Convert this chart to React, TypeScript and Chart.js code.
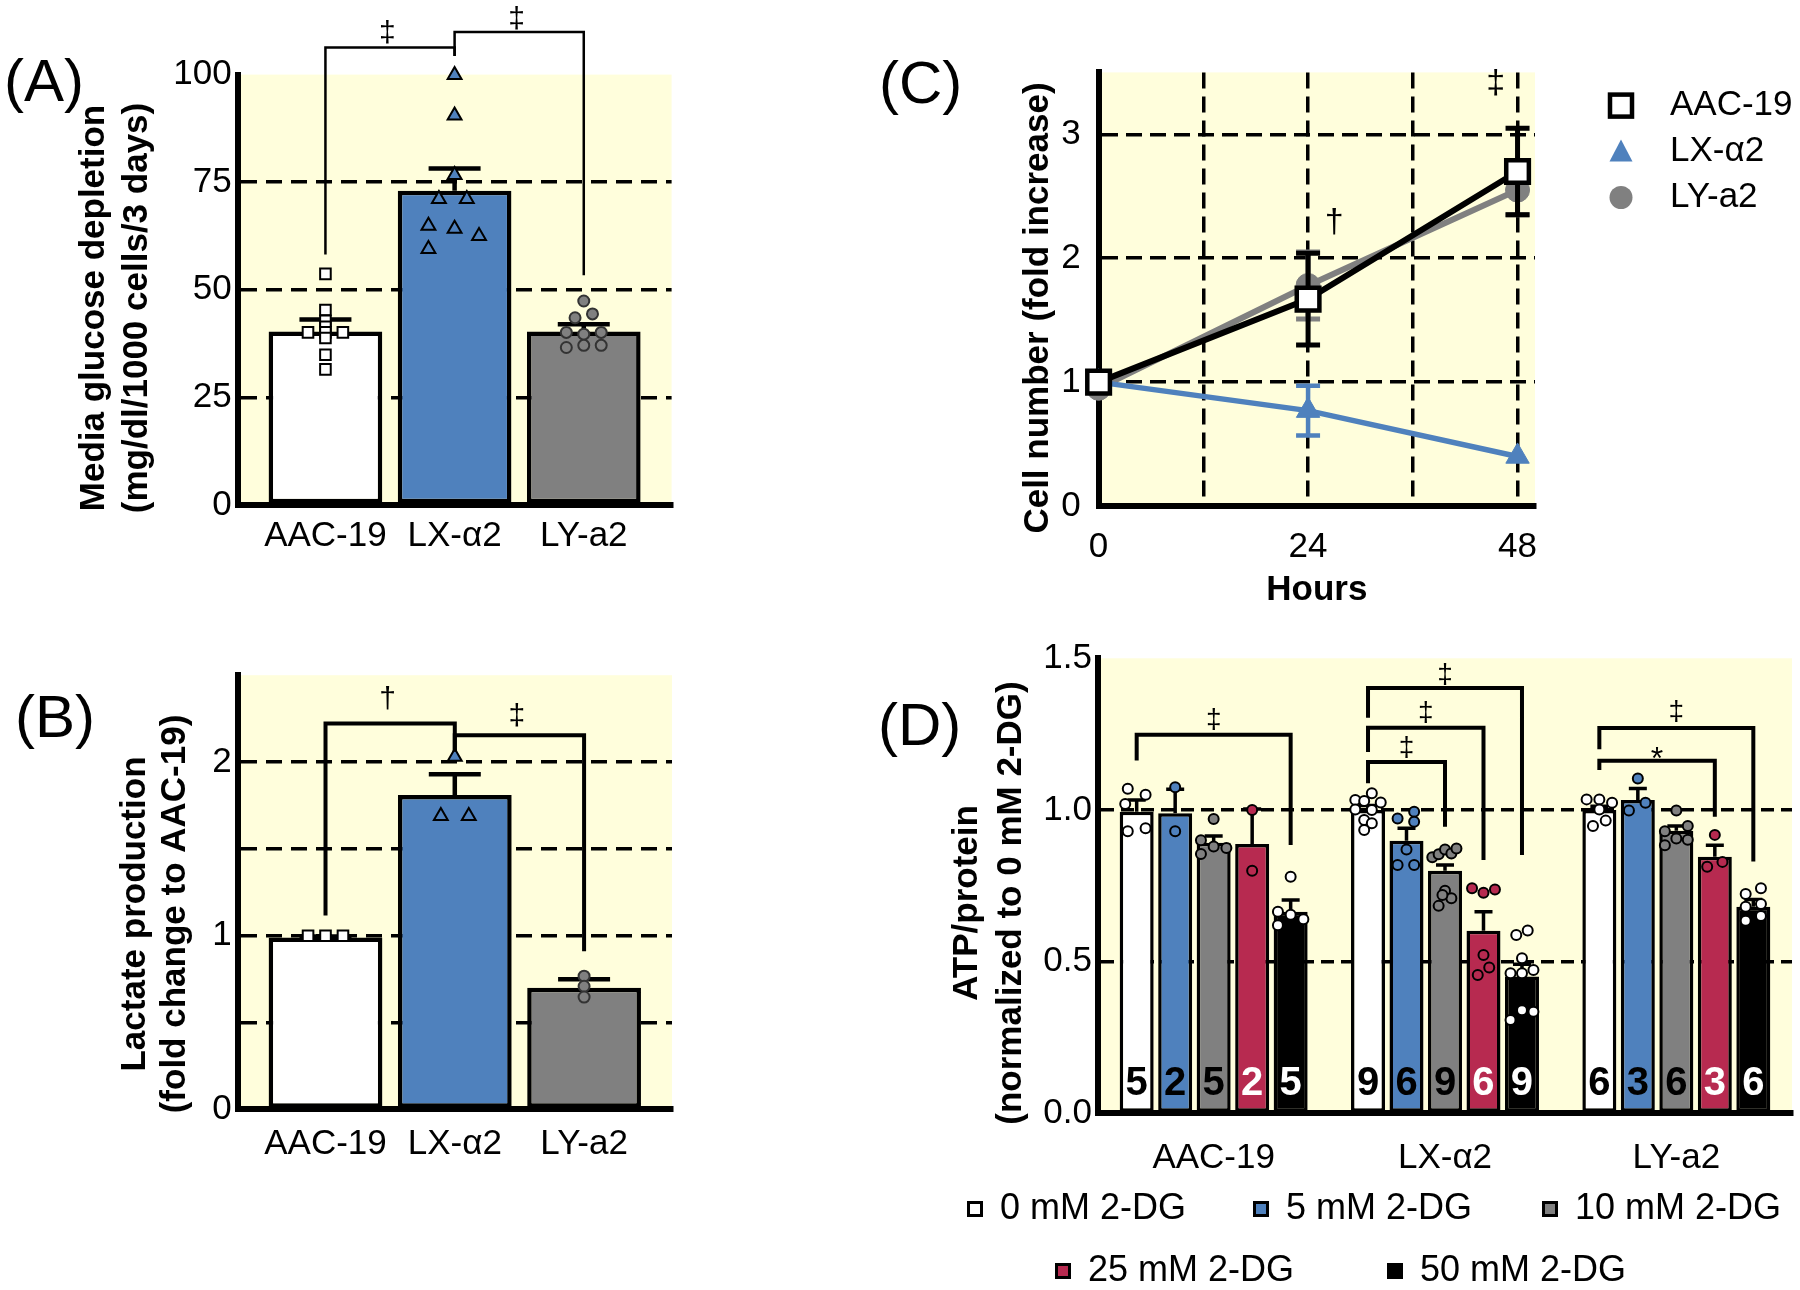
import React, { useEffect, useRef } from 'react';
import { Chart, registerables } from 'chart.js';
Chart.register(...registerables);

const W = 1800;
const H = 1290;
const FONT = '"Liberation Sans", Arial, Helvetica, sans-serif';
const YELLOW = '#FFFEDC';
const BLUE = '#4F81BD';
const GRAY = '#808080';
const RED = '#B72A50';
const WHITE = '#FFFFFF';
const BLACK = '#000000';

// ---------- shared ----------
const lines = ['AAC-19', 'LX-α2', 'LY-a2'];

// ---------- Panel A : glucose depletion ----------
const aTicks = [0, 25, 50, 75, 100];
const aGrid = [25, 50, 75];
const aMean = [40.3, 73.0, 40.3];
const aSem = [2.8, 5.2, 1.7];
const aPtsAAC = [53.7, 45.3, 42.8, 41.4, 40.1, 40.1, 40.1, 38.8, 34.9, 31.5];
const aJitAAC = [0, 0, 0, 0, -1, 0, 1, 0, 0, 0];
const aPtsLX = [99.9, 90.5, 76.7, 71.1, 71.1, 64.9, 64.2, 62.5, 59.5];
const aJitLX = [0, 0, 0, -0.9, 0.7, -1.5, 0, 1.4, -1.5];
const aPtsLY = [47.4, 44.4, 43.5, 40.1, 40.1, 39.7, 36.6, 37.1, 37.1];
const aJitLY = [0, 0.5, -0.5, -1, 1, 0, -1, 0, 1];
const aBrackets = [
  { from: 0, to: 1, top: 106.3, leftEnd: 58.2, rightEnd: 104.3, sym: '‡', symY: 109.5 },
  { from: 1, to: 2, top: 109.9, leftEnd: 104.3, rightEnd: 53.4, sym: '‡', symY: 112.8 },
];

// ---------- Panel B : lactate ----------
const bTicks = [0, 0.5, 1, 1.5, 2, 2.5];
const bGrid = [0.5, 1, 1.5, 2];
const bMean = [0.99, 1.81, 0.7];
const bSem = [0.005, 0.12, 0.05];
const bPtsAAC = [1.0, 1.0, 1.0];
const bJitAAC = [-1, 0, 1];
const bPtsLX = [2.03, 1.69, 1.69];
const bJitLX = [0, -0.8, 0.8];
const bPtsLY = [0.767, 0.709, 0.647];
const bJitLY = [0, 0, 0];
const bBrackets = [
  { from: 0, to: 1, top: 2.222, leftEnd: 1.116, rightEnd: 2.06, sym: '†', symY: 2.36 },
  { from: 1, to: 2, top: 2.154, leftEnd: 2.06, rightEnd: 0.91, sym: '‡', symY: 2.26 },
];

// ---------- Panel C : cell number ----------
const hours = [0, 24, 48];
const cXTicks = [0, 12, 24, 36, 48];
const cYTicks = [0, 1, 2, 3];
const cAAC = [1.0, 1.67, 2.7];
const cAACErr = [0.03, 0.37, 0.35];
const cLX = [1.0, 0.77, 0.4];
const cLXErr = [0.02, 0.2, 0.03];
const cLY = [0.95, 1.78, 2.55];
const cLYErr = [0.03, 0.27, 0.2];
const cMarks = [
  { x: 27, y: 2.29, sym: '†' },
  { x: 45.5, y: 3.41, sym: '‡' },
];

// ---------- Panel D : ATP ----------
const dConc = ['0 mM 2-DG', '5 mM 2-DG', '10 mM 2-DG', '25 mM 2-DG', '50 mM 2-DG'];
const dYTicks = [0, 0.5, 1, 1.5];
const dGrid = [0.5, 1];
const dMean0 = [0.994, 1.0, 1.0];
const dMean5 = [0.989, 0.899, 1.033];
const dMean10 = [0.892, 0.8, 0.932];
const dMean25 = [0.888, 0.602, 0.846];
const dMean50 = [0.665, 0.451, 0.681];
const dSem0 = [0.039, 0.015, 0.012];
const dSem5 = [0.079, 0.041, 0.038];
const dSem10 = [0.022, 0.019, 0.015];
const dSem25 = [0.115, 0.063, 0.038];
const dSem50 = [0.038, 0.041, 0.024];
const dN0 = [5, 9, 6];
const dN5 = [2, 6, 3];
const dN10 = [5, 9, 6];
const dN25 = [2, 6, 3];
const dN50 = [5, 9, 6];
const dPts0 = [
  [1.07, 1.05, 1.02, 0.93, 0.94],
  [1.033, 1.03, 1.055, 1.025, 1.002, 1.0, 0.967, 0.956, 0.934],
  [1.035, 1.035, 1.024, 1.002, 0.947, 0.965],
];
const dJit0 = [
  [-0.7, 0.7, -0.9, -0.7, 0.7],
  [-1, -0.3, 0.3, 1, -1, 0.3, -0.3, 0.3, -0.3],
  [-1, 0, 1, 0, -0.5, 0.5],
];
const dPts5 = [
  [1.075, 0.93],
  [0.972, 0.994, 0.961, 0.87, 0.819, 0.819],
  [1.104, 0.998, 1.024],
];
const dJit5 = [
  [0, 0],
  [-0.7, 0.6, 0.6, 0, -0.7, 0.6],
  [0, -0.7, 0.6],
];
const dPts10 = [
  [0.97, 0.9, 0.88, 0.875, 0.855],
  [0.844, 0.854, 0.87, 0.857, 0.873, 0.734, 0.709, 0.684, 0.72],
  [0.998, 0.93, 0.947, 0.906, 0.902, 0.884],
];
const dJit10 = [
  [0, -1, 0, 1, -1],
  [-1, -0.5, 0, 0.5, 0.9, 0, 0.5, -0.5, -0.2],
  [0, -0.9, 0.9, 0, 0.9, -0.9],
];
const dPts25 = [
  [1.0, 0.8],
  [0.742, 0.727, 0.738, 0.522, 0.481, 0.456],
  [0.918, 0.813, 0.829],
];
const dJit25 = [
  [0, 0],
  [-0.9, 0, 0.9, 0, 0.45, -0.45],
  [0, -0.6, 0.6],
];
const dPts50 = [
  [0.78, 0.665, 0.655, 0.64, 0.62],
  [0.588, 0.603, 0.511, 0.462, 0.473, 0.462, 0.308, 0.34, 0.335],
  [0.742, 0.723, 0.681, 0.69, 0.635, 0.651],
];
const dJit50 = [
  [0, -1, 0, 1, -1],
  [-0.45, 0.45, 0, -0.9, 0.9, 0, -0.9, 0, 0.9],
  [0.6, -0.6, -0.6, 0.6, -0.6, 0.6],
];
const dBrackets = [
  { g: 0, from: 0, to: 4, top: 1.248, leftEnd: 1.163, rightEnd: 0.885, sym: '‡', symY: 1.297 },
  { g: 1, from: 0, to: 4, top: 1.402, leftEnd: 1.304, rightEnd: 0.852, sym: '‡', symY: 1.444 },
  { g: 1, from: 0, to: 3, top: 1.271, leftEnd: 1.191, rightEnd: 0.835, sym: '‡', symY: 1.318 },
  { g: 1, from: 0, to: 2, top: 1.158, leftEnd: 1.088, rightEnd: 0.945, sym: '‡', symY: 1.203 },
  { g: 2, from: 0, to: 4, top: 1.27, leftEnd: 1.2, rightEnd: 0.83, sym: '‡', symY: 1.322 },
  { g: 2, from: 0, to: 3, top: 1.162, leftEnd: 1.132, rightEnd: 0.978, sym: '*', symY: 1.19 },
];

const dMeans = [dMean0, dMean5, dMean10, dMean25, dMean50];
const dSems = [dSem0, dSem5, dSem10, dSem25, dSem50];
const dNs = [dN0, dN5, dN10, dN25, dN50];
const dPts = [dPts0, dPts5, dPts10, dPts25, dPts50];
const dJits = [dJit0, dJit5, dJit10, dJit25, dJit50];
const dBarColors = [WHITE, BLUE, GRAY, RED, BLACK];
const dPtColors = [WHITE, BLUE, GRAY, RED, WHITE];
const dNColors = [BLACK, BLACK, BLACK, WHITE, WHITE];

// ---------- layout helpers ----------
const YW = 120;
const XH = 100;
type Box = { l: number; t: number; r: number; b: number };
const padFor = (b: Box) => ({ left: b.l - YW, top: b.t, right: W - b.r, bottom: H - b.b - XH });

const boxA: Box = { l: 237.6, t: 74.6, r: 671.6, b: 505 };
const boxB: Box = { l: 237.6, t: 675.2, r: 672, b: 1109.4 };
const boxC: Box = { l: 1098.6, t: 72.4, r: 1535, b: 506 };
const boxD: Box = { l: 1098, t: 658.3, r: 1792, b: 1113.4 };

const TICK_FONT = { family: FONT, size: 35 };

function txt(ctx: CanvasRenderingContext2D, s: string, x: number, y: number, size: number, o: any = {}) {
  ctx.save();
  ctx.font = `${o.bold ? 'bold ' : ''}${size}px ${FONT}`;
  ctx.fillStyle = o.color || BLACK;
  ctx.textAlign = o.align || 'center';
  ctx.textBaseline = 'middle';
  if (o.rot) {
    ctx.translate(x, y);
    ctx.rotate(-Math.PI / 2);
    ctx.fillText(s, 0, 0);
  } else {
    ctx.fillText(s, x, y);
  }
  ctx.restore();
}

function bracket(ctx: CanvasRenderingContext2D, x1: number, x2: number, yT: number, yL: number, yR: number, lw: number) {
  ctx.save();
  ctx.strokeStyle = BLACK;
  ctx.lineWidth = lw;
  ctx.lineJoin = 'miter';
  ctx.setLineDash([]);
  ctx.beginPath();
  ctx.moveTo(x1, yL);
  ctx.lineTo(x1, yT);
  ctx.lineTo(x2, yT);
  ctx.lineTo(x2, yR);
  ctx.stroke();
  ctx.restore();
}

function errBar(ctx: CanvasRenderingContext2D, x: number, yFrom: number, yTo: number, cap: number, lw: number, color: string, capFrom = false) {
  ctx.save();
  ctx.strokeStyle = color;
  ctx.lineWidth = lw;
  ctx.setLineDash([]);
  ctx.beginPath();
  ctx.moveTo(x, yFrom);
  ctx.lineTo(x, yTo);
  ctx.moveTo(x - cap / 2, yTo);
  ctx.lineTo(x + cap / 2, yTo);
  if (capFrom) {
    ctx.moveTo(x - cap / 2, yFrom);
    ctx.lineTo(x + cap / 2, yFrom);
  }
  ctx.stroke();
  ctx.restore();
}

const gridColor = (vals: number[]) => (c: any) => (c.tick && vals.some((v) => Math.abs(v - c.tick.value) < 1e-9) ? BLACK : 'rgba(0,0,0,0)');

function yScale(min: number, max: number, ticks: number[], grid: number[], dash: number[], label: (v: number) => string, pad: number) {
  return {
    type: 'linear',
    min,
    max,
    afterBuildTicks: (s: any) => {
      s.ticks = ticks.map((v) => ({ value: v }));
    },
    afterFit: (s: any) => {
      s.width = YW;
    },
    ticks: { font: TICK_FONT, color: BLACK, padding: pad, callback: (v: any) => label(Number(v)) },
    grid: { drawTicks: false, color: gridColor(grid), lineWidth: 3.5 },
    border: { display: true, color: BLACK, width: 6, dash },
  };
}

function xLinear(min: number, max: number, ticks: number[], grid: number[], dash: number[], label: (v: number) => string, pad: number, showGrid: boolean) {
  return {
    type: 'linear',
    min,
    max,
    offset: false,
    afterBuildTicks: (s: any) => {
      s.ticks = ticks.map((v) => ({ value: v }));
    },
    afterFit: (s: any) => {
      s.height = XH;
    },
    ticks: { font: TICK_FONT, color: BLACK, padding: pad, maxRotation: 0, autoSkip: false, callback: (v: any) => label(Number(v)) },
    grid: { display: showGrid, offset: false, drawTicks: false, color: gridColor(grid), lineWidth: 3.5 },
    border: { display: true, color: BLACK, width: 6, dash },
  };
}

const baseOptions = (box: Box, scales: any) => ({
  responsive: false,
  animation: false,
  events: [],
  layout: { padding: padFor(box) },
  plugins: { legend: { display: false }, tooltip: { enabled: false } },
  scales,
});

const bgPlugin = {
  id: 'bg',
  beforeDraw(chart: any) {
    const { ctx, chartArea: a } = chart;
    ctx.save();
    ctx.fillStyle = YELLOW;
    ctx.fillRect(a.left, a.top, a.right - a.left, a.bottom - a.top);
    ctx.restore();
  },
};

// A and B share the same structure
function barPanel(
  box: Box,
  yMax: number,
  ticks: number[],
  grid: number[],
  yLabel: (v: number) => string,
  mean: number[],
  sem: number[],
  pts: number[][],
  jit: number[][],
  brackets: any[],
  brLw: number,
  symSize: number,
  panel: string,
  panelXY: number[],
  titles: string[],
  titleX: number[],
  titleY: number,
  xPad: number
) {
  const J = 0.135;
  const ptStyles = [
    { pointStyle: 'rect', pointRadius: 7.5, pointBackgroundColor: WHITE, pointBorderColor: BLACK, pointBorderWidth: 2 },
    { pointStyle: 'triangle', pointRadius: 8, pointBackgroundColor: BLUE, pointBorderColor: BLACK, pointBorderWidth: 2 },
    { pointStyle: 'circle', pointRadius: 5.5, pointBackgroundColor: GRAY, pointBorderColor: '#333333', pointBorderWidth: 2 },
  ];
  return {
    type: 'bar',
    data: {
      datasets: [
        {
          type: 'bar',
          data: mean.map((v, i) => ({ x: i, y: v })),
          backgroundColor: [WHITE, BLUE, GRAY],
          borderColor: BLACK,
          borderWidth: 4.5,
          borderSkipped: false,
          barPercentage: 0.88,
          categoryPercentage: 1,
          order: 2,
        },
        ...pts.map((arr, g) => ({
          type: 'scatter',
          data: arr.map((v, j) => ({ x: g + jit[g][j] * J, y: v })),
          ...ptStyles[g],
          clip: false,
          order: 0,
        })),
      ],
    },
    options: baseOptions(box, {
      x: xLinear(-0.68, 2.68, [0, 1, 2], [], [], (v) => lines[v] ?? '', xPad, false),
      y: yScale(0, yMax, ticks, grid, [16, 9], yLabel, 6),
    }),
    plugins: [
      bgPlugin,
      {
        id: 'errA',
        afterDatasetDraw(chart: any, args: any) {
          if (args.meta.type !== 'bar') return;
          const y = chart.scales.y;
          args.meta.data.forEach((el: any, i: number) => {
            errBar(chart.ctx, el.x, y.getPixelForValue(mean[i]), y.getPixelForValue(mean[i] + sem[i]), 52, 4.5, BLACK);
          });
        },
        afterDraw(chart: any) {
          const { ctx } = chart;
          const x = chart.scales.x;
          const y = chart.scales.y;
          brackets.forEach((b) => {
            bracket(ctx, x.getPixelForValue(b.from), x.getPixelForValue(b.to), y.getPixelForValue(b.top), y.getPixelForValue(b.leftEnd), y.getPixelForValue(b.rightEnd), brLw);
            txt(ctx, b.sym, x.getPixelForValue((b.from + b.to) / 2 - 0.02), y.getPixelForValue(b.symY), symSize);
          });
          txt(ctx, panel, panelXY[0], panelXY[1], 60, { align: 'left' });
          titles.forEach((t, i) => txt(ctx, t, titleX[i], titleY, 35, { bold: true, rot: true }));
        },
      },
    ],
  };
}

function configA() {
  return barPanel(
    boxA,
    100,
    aTicks,
    aGrid,
    (v) => String(v),
    aMean,
    aSem,
    [aPtsAAC, aPtsLX, aPtsLY],
    [aJitAAC, aJitLX, aJitLY],
    aBrackets,
    2.5,
    30,
    '(A)',
    [4, 84],
    ['Media glucose depletion', '(mg/dl/1000 cells/3 days)'],
    [94, 137],
    308,
    10
  );
}

function configB() {
  return barPanel(
    boxB,
    2.5,
    bTicks,
    bGrid,
    (v) => (Number.isInteger(v) && v < 2.5 ? String(v) : ''),
    bMean,
    bSem,
    [bPtsAAC, bPtsLX, bPtsLY],
    [bJitAAC, bJitLX, bJitLY],
    bBrackets,
    4,
    30,
    '(B)',
    [15, 720],
    ['Lactate production', '(fold change to AAC-19)'],
    [135, 175],
    914,
    14
  );
}

function configC() {
  const series = [
    { label: 'AAC-19', vals: cAAC, err: cAACErr, color: BLACK, lw: 6, ps: 'rect', pr: 16, pbg: WHITE, pbc: BLACK, pbw: 4.5, elw: 5 },
    { label: 'LX-α2', vals: cLX, err: cLXErr, color: BLUE, lw: 5.5, ps: 'triangle', pr: 13.5, pbg: BLUE, pbc: BLUE, pbw: 1, elw: 4.5 },
    { label: 'LY-a2', vals: cLY, err: cLYErr, color: GRAY, lw: 6, ps: 'circle', pr: 12, pbg: GRAY, pbc: GRAY, pbw: 1, elw: 5 },
  ];
  return {
    type: 'line',
    data: {
      datasets: series.map((s) => ({
        label: s.label,
        data: hours.map((h, i) => ({ x: h, y: s.vals[i] })),
        borderColor: s.color,
        borderWidth: s.lw,
        pointStyle: s.ps,
        pointRadius: s.pr,
        pointBackgroundColor: s.pbg,
        pointBorderColor: s.pbc,
        pointBorderWidth: s.pbw,
        tension: 0,
        clip: false,
      })),
    },
    options: baseOptions(boxC, {
      x: xLinear(0, 50, cXTicks, [12, 24, 36, 48], [16, 8], (v) => (v % 24 === 0 ? String(v) : ''), 20, true),
      y: yScale(0, 3.5, cYTicks, [1, 2, 3], [16, 8], (v) => String(v), 18),
    }),
    plugins: [
      bgPlugin,
      {
        id: 'cExtra',
        beforeDatasetDraw(chart: any, args: any) {
          const s = series[args.index];
          const x = chart.scales.x;
          const y = chart.scales.y;
          hours.forEach((h, i) => {
            if (s.err[i] < 0.05) return;
            const px = x.getPixelForValue(h);
            const lo = y.getPixelForValue(s.vals[i] - s.err[i]);
            const hi = y.getPixelForValue(s.vals[i] + s.err[i]);
            errBar(chart.ctx, px, lo, hi, 24, s.elw, s.color, true);
          });
        },
        afterDraw(chart: any) {
          const { ctx } = chart;
          const x = chart.scales.x;
          const y = chart.scales.y;
          cMarks.forEach((m) => txt(ctx, m.sym, x.getPixelForValue(m.x), y.getPixelForValue(m.y), 34));
          txt(ctx, '(C)', 879, 86, 60, { align: 'left' });
          txt(ctx, 'Cell number (fold increase)', 1038, 308, 35, { bold: true, rot: true });
          txt(ctx, 'Hours', (chart.chartArea.left + chart.chartArea.right) / 2, 590, 35, { bold: true });
          // legend
          const ly = [105.6, 151.5, 197.5];
          ctx.save();
          ctx.fillStyle = WHITE;
          ctx.strokeStyle = BLACK;
          ctx.lineWidth = 4.5;
          ctx.fillRect(1621 - 11, ly[0] - 11, 22, 22);
          ctx.strokeRect(1621 - 11, ly[0] - 11, 22, 22);
          ctx.fillStyle = BLUE;
          ctx.beginPath();
          ctx.moveTo(1621, ly[1] - 12);
          ctx.lineTo(1621 + 11.5, ly[1] + 10);
          ctx.lineTo(1621 - 11.5, ly[1] + 10);
          ctx.closePath();
          ctx.fill();
          ctx.fillStyle = GRAY;
          ctx.beginPath();
          ctx.arc(1621, ly[2], 11.5, 0, Math.PI * 2);
          ctx.fill();
          ctx.restore();
          series.forEach((s, i) => txt(ctx, s.label, 1670, ly[i], 35, { align: 'left' }));
        },
      },
    ],
  };
}

function configD() {
  const PITCH = 0.832 / 5;
  const DJ = 0.055;
  return {
    type: 'bar',
    data: {
      datasets: [
        ...dConc.map((c, k) => ({
          type: 'bar',
          label: c,
          data: dMeans[k].map((v, g) => ({ x: g, y: v })),
          backgroundColor: dBarColors[k],
          borderColor: BLACK,
          borderWidth: 3.5,
          borderSkipped: false,
          barPercentage: 0.883,
          categoryPercentage: 0.832,
          order: 2,
        })),
        ...dConc.map((c, k) => ({
          type: 'scatter',
          label: c + ' points',
          data: dPts[k].flatMap((arr, g) => arr.map((v, j) => ({ x: g + (k - 2) * PITCH + dJits[k][g][j] * DJ, y: v }))),
          pointStyle: 'circle',
          pointRadius: 5,
          pointBackgroundColor: dPtColors[k],
          pointBorderColor: BLACK,
          pointBorderWidth: 2,
          clip: false,
          order: 0,
        })),
      ],
    },
    options: baseOptions(boxD, {
      x: xLinear(-0.5, 2.5, [0, 1, 2], [], [], (v) => lines[v] ?? '', 24, false),
      y: yScale(0, 1.5, dYTicks, dGrid, [13, 7], (v) => v.toFixed(1), 6),
    }),
    plugins: [
      bgPlugin,
      {
        id: 'dExtra',
        afterDatasetDraw(chart: any, args: any) {
          if (args.meta.type !== 'bar') return;
          const k = args.index;
          const y = chart.scales.y;
          args.meta.data.forEach((el: any, g: number) => {
            errBar(chart.ctx, el.x, y.getPixelForValue(dMeans[k][g]), y.getPixelForValue(dMeans[k][g] + dSems[k][g]), 18, 3.5, BLACK);
          });
        },
        afterDraw(chart: any) {
          const { ctx } = chart;
          const y = chart.scales.y;
          const y0 = y.getPixelForValue(0);
          dConc.forEach((c, k) => {
            const meta = chart.getDatasetMeta(k);
            meta.data.forEach((el: any, g: number) => {
              txt(ctx, String(dNs[k][g]), el.x, y0 - 29, 40, { bold: true, color: dNColors[k] });
            });
          });
          dBrackets.forEach((b) => {
            const x1 = chart.getDatasetMeta(b.from).data[b.g].x;
            const x2 = chart.getDatasetMeta(b.to).data[b.g].x;
            bracket(ctx, x1, x2, y.getPixelForValue(b.top), y.getPixelForValue(b.leftEnd), y.getPixelForValue(b.rightEnd), 4);
            const off = b.sym === '*' ? 8 : 0;
            txt(ctx, b.sym, (x1 + x2) / 2, y.getPixelForValue(b.symY) + off, b.sym === '*' ? 32 : 28);
          });
          txt(ctx, '(D)', 878, 728, 60, { align: 'left' });
          txt(ctx, 'ATP/protein', 967, 903, 35, { bold: true, rot: true });
          txt(ctx, '(normalized to 0 mM 2-DG)', 1011, 903, 35, { bold: true, rot: true });
          // legend
          const lx = [975, 1261, 1550, 1063, 1395];
          const lyy = [1209, 1209, 1209, 1271, 1271];
          dConc.forEach((c, k) => {
            ctx.save();
            ctx.fillStyle = dBarColors[k];
            ctx.strokeStyle = BLACK;
            ctx.lineWidth = 3;
            ctx.fillRect(lx[k] - 6.5, lyy[k] - 6.5, 13, 13);
            ctx.strokeRect(lx[k] - 6.5, lyy[k] - 6.5, 13, 13);
            ctx.restore();
            txt(ctx, c, lx[k] + 25, lyy[k], 36, { align: 'left' });
          });
        },
      },
    ],
  };
}

export default function App() {
  const refA = useRef<HTMLCanvasElement>(null);
  const refB = useRef<HTMLCanvasElement>(null);
  const refC = useRef<HTMLCanvasElement>(null);
  const refD = useRef<HTMLCanvasElement>(null);

  useEffect(() => {
    Chart.defaults.font.family = FONT;
    const charts: Chart[] = [];
    const pairs: [React.RefObject<HTMLCanvasElement>, () => any][] = [
      [refA, configA],
      [refB, configB],
      [refC, configC],
      [refD, configD],
    ];
    pairs.forEach(([r, f]) => {
      if (r.current) charts.push(new Chart(r.current, f() as any));
    });
    return () => charts.forEach((c) => c.destroy());
  }, []);

  const cs: React.CSSProperties = { position: 'absolute', left: 0, top: 0, width: W, height: H };
  return (
    <div style={{ position: 'absolute', left: 0, top: 0, width: W, height: H, background: '#fff', overflow: 'hidden' }}>
      <canvas ref={refA} width={W} height={H} style={cs} />
      <canvas ref={refB} width={W} height={H} style={cs} />
      <canvas ref={refC} width={W} height={H} style={cs} />
      <canvas ref={refD} width={W} height={H} style={cs} />
    </div>
  );
}
